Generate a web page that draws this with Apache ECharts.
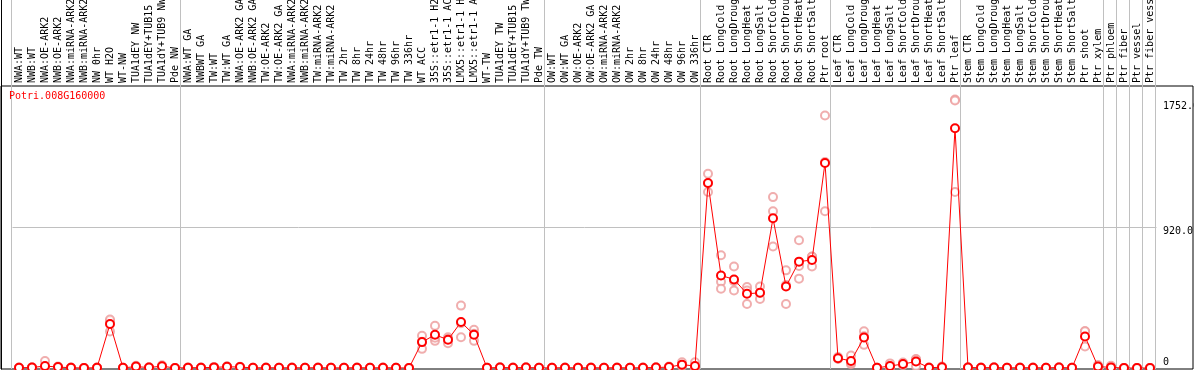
<!DOCTYPE html>
<html>
<head>
<meta charset="utf-8">
<title>Potri.008G160000</title>
<script src="https://cdn.jsdelivr.net/npm/echarts@6/dist/echarts.min.js"></script>
<style>
  html, body { margin: 0; padding: 0; background: #fff; }
  #chart { width: 1194px; height: 370px; }
</style>
</head>
<body>
<div id="chart"></div>
<script>
// sample names, left to right
var categories = [
  'NWA:WT', 'NWB:WT', 'NWA:OE-ARK2', 'NWB:OE-ARK2', 'NWA:miRNA-ARK2', 'NWB:miRNA-ARK2',
  'NW 0hr', 'WT H2O', 'WT-NW', 'TUA1dEY NW', 'TUA1dEY+TUB15 NW', 'TUA1dY+TUB9 NW', 'Pde NW',
  'NWA:WT GA', 'NWBWT GA', 'TW:WT', 'TW:WT GA', 'NWA:OE-ARK2 GA', 'NWB:OE-ARK2 GA',
  'TW:OE-ARK2', 'TW:OE-ARK2 GA', 'NWA:miRNA-ARK2', 'NWB:miRNA-ARK2', 'TW:miRNA-ARK2', 'TW:miRNA-ARK2',
  'TW 2hr', 'TW 8hr', 'TW 24hr', 'TW 48hr', 'TW 96hr', 'TW 336hr', 'WT ACC',
  '35S::etr1-1 H2O', '35S::etr1-1 ACC', 'LMX5::etr1-1 H2O', 'LMX5::etr1-1 ACC',
  'WT-TW', 'TUA1dEY TW', 'TUA1dEY+TUB15 TW', 'TUA1dY+TUB9 TW', 'Pde TW',
  'OW:WT', 'OW:WT GA', 'OW:OE-ARK2', 'OW:OE-ARK2 GA', 'OW:miRNA-ARK2', 'OW:miRNA-ARK2',
  'OW 2hr', 'OW 8hr', 'OW 24hr', 'OW 48hr', 'OW 96hr', 'OW 336hr',
  'Root CTR', 'Root LongCold', 'Root LongDrought', 'Root LongHeat', 'Root LongSalt',
  'Root ShortCold', 'Root ShortDrought', 'Root ShortHeat', 'Root ShortSalt', 'Ptr root',
  'Leaf CTR', 'Leaf LongCold', 'Leaf LongDrought', 'Leaf LongHeat', 'Leaf LongSalt',
  'Leaf ShortCold', 'Leaf ShortDrought', 'Leaf ShortHeat', 'Leaf ShortSalt', 'Ptr leaf',
  'Stem CTR', 'Stem LongCold', 'Stem LongDrought', 'Stem LongHeat', 'Stem LongSalt',
  'Stem ShortCold', 'Stem ShortDrought', 'Stem ShortHeat', 'Stem ShortSalt', 'Ptr shoot',
  'Ptr xylem', 'Ptr phloem', 'Ptr fiber', 'Ptr vessel', 'Ptr fiber vessel'
];

// index of the first sample of each experiment block (gray separators)
var groupStarts = [0, 13, 41, 53, 63, 73, 84, 85, 86, 87];

// mean expression
var meanValues = [
  2, 3, 13, 6, 2, 0, 2, 287, 1, 9, 3, 12, 0,
  2, 2, 4, 8, 6, 1, 2, 1, 2, 1, 2, 1, 1, 2, 1, 2, 1, 0,
  169, 217, 184, 300, 217, 1, 3, 2, 3, 1,
  1, 2, 1, 2, 1, 2, 1, 2, 3, 6, 22, 13,
  1207, 604, 578, 484, 491, 977, 532, 694, 705, 1338,
  64, 46, 199, 1, 13, 26, 42, 2, 5, 1564,
  3, 2, 3, 1, 2, 2, 1, 3, 1, 206,
  9, 4, 0, 0, 0
];

// replicates
var rep1 = [
  3, 4, 45, 10, 3, 0, 3, 306, 2, 14, 5, 18, 0,
  4, 3, 6, 11, 8, 2, 3, 2, 3, 2, 3, 2, 2, 3, 2, 3, 2, 0,
  210, 276, 201, 407, 250, 2, 5, 3, 5, 2,
  2, 3, 2, 3, 2, 3, 2, 3, 5, 9, 38, 38,
  1268, 736, 662, 528, 532, 1115, 637, 834, 727, 1647,
  72, 81, 239, 2, 30, 36, 59, 3, 10, 1752,
  5, 3, 5, 2, 3, 3, 2, 5, 2, 239,
  20, 15, 0, 0, 0
];
var rep2 = [
  1, 2, 0, 4, 1, 0, 1, 238, 0, 5, 1, 8, 0,
  1, 1, 2, 5, 4, 0, 1, 0, 1, 0, 1, 0, 0, 1, 0, 1, 0, 0,
  125, 177, 162, 201, 177, 0, 1, 1, 1, 0,
  0, 1, 0, 1, 0, 1, 0, 1, 1, 3, 12, 0,
  1148, 563, 506, 418, 451, 793, 418, 583, 662, 1023,
  60, 24, 151, 0, 4, 18, 11, 0, 2, 1148,
  1, 1, 1, 0, 1, 1, 0, 1, 0, 140,
  3, 0, 0, 0, 0
];
var rep3 = [
  2, 3, 0, 4, 2, 0, 2, 317, 1, 8, 3, 10, 0,
  2, 2, 4, 8, 6, 1, 2, 1, 2, 1, 2, 1, 1, 2, 1, 2, 1, 0,
  172, 198, 189, 292, 224, 1, 3, 2, 3, 1,
  1, 2, 1, 2, 1, 2, 1, 2, 3, 6, 16, 1,
  1205, 517, 566, 506, 490, 1023, 541, 666, 726, 1344,
  60, 33, 207, 1, 5, 24, 56, 3, 3, 1745,
  3, 2, 3, 1, 2, 2, 1, 3, 1, 239,
  4, 0, 0, 0, 0
];

// labels on the right axis
var yLabelValues = [0, 920, 1752];

var MONO = 'DejaVu Sans Mono';
var dataMax = Math.max.apply(null, meanValues.concat(rep1, rep2, rep3));
var yMax = Math.round(dataMax * 1.05);

var chart = echarts.init(document.getElementById('chart'), null, { renderer: 'canvas' });

function repSeries(name, values) {
  return {
    name: name,
    type: 'scatter',
    xAxisIndex: 0,
    yAxisIndex: 0,
    data: values,
    symbol: 'emptyCircle',
    symbolSize: 8,
    itemStyle: { color: '#ec9a9a', borderWidth: 1.2 },
    emphasis: { disabled: true },
    z: 2,
    silent: true
  };
}

var noBounds = { outerBoundsMode: 'none', containLabel: false };

var option = {
  animation: false,
  backgroundColor: '#fff',
  title: {
    text: 'Potri.008G160000',
    left: 9,
    top: 91,
    padding: 0,
    textStyle: { color: '#ff0000', fontSize: 10, fontFamily: MONO, fontWeight: 'normal' }
  },
  grid: [
    // data area + sample names
    Object.assign({ left: 12.5, width: 1144, top: 86, bottom: 2 }, noBounds),
    // separators running through the header
    Object.assign({ left: 11, width: 1144, top: 0, bottom: 1 }, noBounds),
    // black frame
    Object.assign({
      left: 1, right: 1, top: 86, bottom: 1,
      show: true, borderColor: '#000', borderWidth: 1, backgroundColor: 'transparent'
    }, noBounds),
    // right edge line through the header
    Object.assign({ left: 1, right: 1, top: 0, bottom: 1 }, noBounds)
  ],
  xAxis: [
    {
      type: 'category',
      gridIndex: 0,
      position: 'top',
      data: categories,
      boundaryGap: true,
      axisLine: { show: false },
      axisTick: { show: false },
      splitLine: { show: false },
      axisLabel: {
        interval: 0,
        rotate: 90,
        margin: 3,
        color: '#000',
        fontSize: 10,
        fontFamily: MONO
      }
    },
    {
      type: 'category',
      gridIndex: 1,
      data: categories,
      boundaryGap: true,
      axisLine: { show: false },
      axisTick: { show: false },
      axisLabel: { show: false },
      splitLine: {
        show: true,
        interval: function (index) { return groupStarts.indexOf(index) >= 0; },
        lineStyle: { color: '#c0c0c0', width: 1 }
      }
    },
    { type: 'value', gridIndex: 2, show: false, splitLine: { show: false } },
    { type: 'value', gridIndex: 3, show: false, splitLine: { show: false } }
  ],
  yAxis: [
    {
      type: 'value',
      gridIndex: 0,
      position: 'right',
      offset: -1.5,
      min: 0,
      max: yMax,
      interval: yMax / 2,
      axisLine: { show: false },
      axisTick: { show: false },
      splitLine: {
        show: true,
        showMinLine: false,
        showMaxLine: false,
        lineStyle: { color: '#c0c0c0', width: 1 }
      },
      axisLabel: {
        customValues: yLabelValues,
        margin: 8,
        align: 'left',
        formatter: function (v) {
          if (v === 0) return '{b|0}';
          if (v === 920) return '{m|' + v.toFixed(1) + '}';
          return '{t|' + v.toFixed(1) + '}';
        },
        rich: {
          b: { color: '#000', fontSize: 10, fontFamily: MONO, padding: [0, 0, 12, 0] },
          m: { color: '#000', fontSize: 10, fontFamily: MONO, padding: [8, 0, 0, 0] },
          t: { color: '#000', fontSize: 10, fontFamily: MONO, padding: [13, 0, 0, 0] }
        }
      }
    },
    { type: 'value', gridIndex: 1, show: false, splitLine: { show: false } },
    { type: 'value', gridIndex: 2, show: false, splitLine: { show: false } },
    {
      type: 'value',
      gridIndex: 3,
      position: 'right',
      axisLine: { show: true, lineStyle: { color: '#000', width: 1 } },
      axisTick: { show: false },
      axisLabel: { show: false },
      splitLine: { show: false }
    }
  ],
  series: [
    repSeries('rep1', rep1),
    repSeries('rep2', rep2),
    repSeries('rep3', rep3),
    {
      name: 'mean',
      type: 'line',
      xAxisIndex: 0,
      yAxisIndex: 0,
      data: meanValues,
      symbol: 'emptyCircle',
      symbolSize: 8,
      showAllSymbol: true,
      lineStyle: { color: '#ff0000', width: 1 },
      itemStyle: { color: '#ff0000', borderWidth: 1.6 },
      emphasis: { disabled: true },
      z: 3,
      silent: true
    }
  ]
};

chart.setOption(option);
</script>
</body>
</html>
